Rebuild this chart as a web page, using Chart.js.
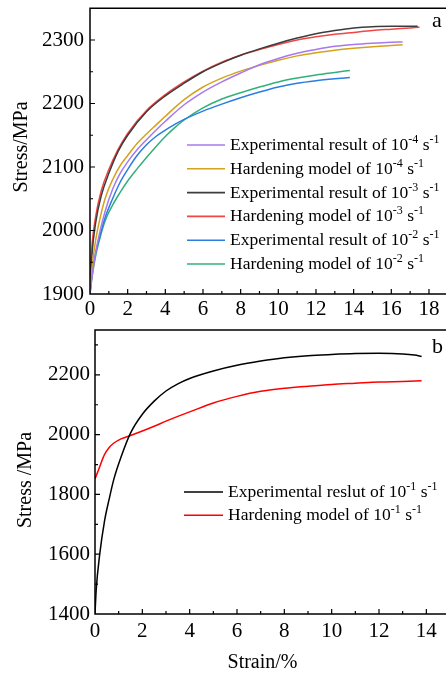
<!DOCTYPE html>
<html><head><meta charset="utf-8">
<script src="https://cdn.jsdelivr.net/npm/chart.js@4"></script>
<style>
html,body{margin:0;padding:0;background:#fff;overflow:hidden;width:446px;height:673px;position:relative;}
canvas{position:absolute;left:0;}
#ca{top:0px}
#cb{top:322px}
</style></head><body>
<canvas id="ca" width="460" height="330"></canvas>
<canvas id="cb" width="460" height="351"></canvas>
<script>
const FONT = '"Liberation Serif", "Times New Roman", serif';

// ---------- Panel a data ----------
const xTicksA = [0, 2, 4, 6, 8, 10, 12, 14, 16, 18];
const yTicksA = [1900, 2000, 2100, 2200, 2300];
const labelsA = [
  'Experimental result of 10^-4 s^-1',
  'Hardening model of 10^-4 s^-1',
  'Experimental result of 10^-3 s^-1',
  'Hardening model of 10^-3 s^-1',
  'Experimental result of 10^-2 s^-1',
  'Hardening model of 10^-2 s^-1'
];
const strain4 = [0, 0.1, 0.3, 0.5, 0.8, 1.2, 1.6, 2, 2.5, 3, 3.5, 4, 5, 6, 7, 8, 9, 10, 11, 12, 13, 14, 15, 16, 16.6];
const exp4    = [1900, 1925, 1965, 1995, 2030, 2065, 2090, 2108, 2127, 2143, 2158, 2172, 2198, 2218, 2234, 2248, 2261, 2271, 2279, 2285, 2290, 2293, 2295, 2296.5, 2297];
const hard4   = [1905, 1940, 1985, 2015, 2050, 2080, 2102, 2118, 2137, 2152, 2166, 2180, 2206, 2226, 2240, 2251, 2260, 2268, 2275, 2280, 2284, 2287, 2289.5, 2291.5, 2292.5];
const strainExp3 = [0, 0.1, 0.3, 0.6, 1, 1.5, 2, 3, 4, 5, 6, 7, 8, 9, 10, 11, 12, 13, 14, 15, 16, 17, 17.4];
const exp3       = [1900, 1960, 2012, 2055, 2090, 2125, 2150, 2187, 2212, 2232, 2250, 2264, 2276, 2286, 2295, 2303, 2310, 2315, 2319, 2321, 2321.5, 2321.5, 2321.5];
const strainHard3 = [0, 0.1, 0.3, 0.6, 1, 1.5, 2, 3, 4, 5, 6, 7, 8, 9, 10, 11, 12, 13, 14, 15, 16, 17, 17.5];
const hard3       = [1920, 1975, 2022, 2063, 2096, 2128, 2153, 2189, 2214, 2234, 2251, 2265, 2276, 2285, 2293, 2300, 2305, 2309, 2312, 2315, 2317, 2319, 2320];
const strain2 = [0, 0.1, 0.3, 0.5, 0.8, 1.2, 1.6, 2, 2.5, 3, 3.5, 4, 4.5, 5, 6, 7, 8, 9, 10, 11, 12, 13, 13.8];
const exp2    = [1900, 1930, 1965, 1988, 2020, 2050, 2076, 2096, 2118, 2135, 2148, 2158, 2167, 2175, 2188, 2199, 2209, 2218, 2226, 2232, 2236, 2239, 2241];
const hard2   = [1900, 1925, 1960, 1985, 2015, 2040, 2060, 2078, 2097, 2115, 2132, 2148, 2162, 2174, 2193, 2207, 2217, 2226, 2234, 2240, 2245, 2249, 2252];

// ---------- Panel b data ----------
const xTicksB = [0, 2, 4, 6, 8, 10, 12, 14];
const yTicksB = [1400, 1600, 1800, 2000, 2200];
const labelsB = [
  'Experimental reslut of 10^-1 s^-1',
  'Hardening model of 10^-1 s^-1'
];
const strainExp1 = [0, 0.05, 0.2, 0.4, 0.6, 0.8, 1.1, 1.5, 2, 2.5, 3, 3.5, 4, 5, 6, 7, 8, 9, 10, 11, 12, 13, 13.5, 13.8];
const exp1       = [1400, 1480, 1600, 1710, 1785, 1852, 1925, 2005, 2068, 2112, 2146, 2170, 2188, 2213, 2232, 2246, 2257, 2264, 2268, 2271, 2272, 2270, 2266, 2261];
const strainHard1 = [0, 0.1, 0.2, 0.4, 0.6, 0.8, 1.1, 1.5, 2, 2.5, 3, 3.5, 4, 5, 6, 7, 8, 9, 10, 11, 12, 13, 13.8];
const hard1       = [1852, 1872, 1893, 1933, 1957, 1972, 1986, 1997, 2012, 2028, 2045, 2061, 2076, 2106, 2128, 2145, 2155, 2162, 2168, 2172, 2176, 2178, 2180];

const colorsA = ['#a878ec', '#d4a21c', '#3c3c3c', '#f04646', '#2a7ee2', '#33b07a'];
const colorsB = ['#000000', '#ff0000'];

const pts = (xs, ys) => xs.map((x, i) => ({x: x, y: ys[i]}));
const plain = s => s.replace(/\^/g, '');

function ds(label, data, color) {
  return {label: plain(label), data: data, borderColor: color, backgroundColor: color,
    borderWidth: 1.5, pointRadius: 0, showLine: true, fill: false,
    cubicInterpolationMode: 'monotone'};
}

function drawRich(ctx, text, x, y, size, supSize, rise) {
  const parts = text.split(/(\^\S+)/);
  ctx.textAlign = 'left';
  ctx.textBaseline = 'alphabetic';
  for (const p of parts) {
    if (!p) continue;
    if (p[0] === '^') {
      const t = p.slice(1);
      ctx.font = supSize + 'px ' + FONT;
      ctx.fillText(t, x, y - rise);
      x += ctx.measureText(t).width;
    } else {
      ctx.font = size + 'px ' + FONT;
      ctx.fillText(p, x, y);
      x += ctx.measureText(p).width;
    }
  }
}

// frame + inward tick marks, drawn from the library scales
const frameTicks = {
  id: 'frameTicks',
  afterDatasetsDraw(chart) {
    const {ctx, chartArea: ca} = chart;
    const xs = chart.scales.x, ys = chart.scales.y;
    ctx.save();
    ctx.strokeStyle = '#000';
    ctx.lineWidth = 1.2;
    ctx.beginPath();
    const mark = (scale, vals, len, horiz) => {
      vals.forEach(v => {
        if (v <= scale.min || v >= scale.max) return;
        const p = scale.getPixelForValue(v);
        if (horiz) { ctx.moveTo(p, ca.bottom); ctx.lineTo(p, ca.bottom - len); }
        else { ctx.moveTo(ca.left, p); ctx.lineTo(ca.left + len, p); }
      });
    };
    const minors = vals => {
      const out = [];
      for (let i = 0; i < vals.length; i++) {
        const step = i < vals.length - 1 ? vals[i + 1] - vals[i] : vals[i] - vals[i - 1];
        out.push(vals[i] + step / 2);
      }
      return out;
    };
    const xv = xs.ticks.map(t => t.value), yv = ys.ticks.map(t => t.value);
    mark(xs, xv, 5, true); mark(xs, minors(xv), 3, true);
    mark(ys, yv, 5, false); mark(ys, minors(yv), 3, false);
    ctx.stroke();
    ctx.lineWidth = 1.5;
    ctx.strokeRect(ca.left, ca.top, ca.right - ca.left, ca.bottom - ca.top);
    ctx.restore();
  }
};

// text annotations and legend
const annot = {
  id: 'annot',
  afterDraw(chart, args, o) {
    const ctx = chart.ctx;
    ctx.save();
    ctx.fillStyle = '#000';
    (o.texts || []).forEach(t => {
      ctx.save();
      ctx.font = t.size + 'px ' + FONT;
      ctx.textAlign = 'center';
      ctx.textBaseline = t.baseline || 'alphabetic';
      ctx.translate(t.x, t.y);
      if (t.rot) ctx.rotate(t.rot);
      ctx.fillText(t.text, 0, 0);
      ctx.restore();
    });
    const L = o.legend;
    if (L) {
      chart.data.datasets.forEach((d, i) => {
        const y = L.y0 + i * L.dy;
        ctx.strokeStyle = d.borderColor;
        ctx.lineWidth = 1.6;
        ctx.beginPath();
        ctx.moveTo(L.x0, y); ctx.lineTo(L.x1, y);
        ctx.stroke();
        ctx.fillStyle = '#000';
        drawRich(ctx, L.labels[i], L.tx, y + L.base, L.size, L.sup, L.rise);
      });
    }
    ctx.restore();
  }
};

function makeChart(id, cfg) {
  return new Chart(document.getElementById(id), {
    type: 'scatter',
    data: {datasets: cfg.datasets},
    plugins: [frameTicks, annot],
    options: {
      responsive: false,
      animation: false,
      events: [],
      layout: {padding: cfg.padding},
      plugins: {legend: {display: false}, tooltip: {enabled: false}, annot: cfg.annot},
      scales: {
        x: {
          type: 'linear', min: cfg.xmin, max: cfg.xmax,
          grid: {display: false, drawTicks: false}, border: {display: false},
          afterBuildTicks: s => { s.ticks = cfg.xTicks.map(v => ({value: v})); },
          afterFit: s => { s.height = cfg.xh; s.paddingLeft = 0; s.paddingRight = 0; },
          ticks: {autoSkip: false, maxRotation: 0, padding: cfg.xpad, color: '#000',
                  font: {family: FONT, size: 21}, callback: v => String(v)}
        },
        y: {
          type: 'linear', min: cfg.ymin, max: cfg.ymax,
          grid: {display: false, drawTicks: false}, border: {display: false},
          afterBuildTicks: s => { s.ticks = cfg.yTicks.map(v => ({value: v})); },
          afterFit: s => { s.width = cfg.yw; s.paddingTop = 0; s.paddingBottom = 0; },
          ticks: {padding: cfg.ypad, color: '#000', font: {family: FONT, size: 21},
                  callback: v => String(v)}
        }
      }
    }
  });
}

makeChart('ca', {
  datasets: [
    ds(labelsA[0], pts(strain4, exp4), colorsA[0]),
    ds(labelsA[1], pts(strain4, hard4), colorsA[1]),
    ds(labelsA[2], pts(strainExp3, exp3), colorsA[2]),
    ds(labelsA[3], pts(strainHard3, hard3), colorsA[3]),
    ds(labelsA[4], pts(strain2, exp2), colorsA[4]),
    ds(labelsA[5], pts(strain2, hard2), colorsA[5])
  ],
  padding: {top: 8.25, left: 0, right: 12.2, bottom: 0},
  xmin: 0, xmax: 19, ymin: 1900, ymax: 2350,
  xTicks: xTicksA, yTicks: yTicksA, xh: 36, yw: 90, xpad: 3, ypad: 6,
  annot: {
    texts: [
      {text: 'Stress/MPa', x: 22, y: 147, size: 20, rot: -Math.PI / 2, baseline: 'middle'},
      {text: 'a', x: 437, y: 27, size: 22}
    ],
    legend: {labels: labelsA, x0: 187, x1: 225, tx: 230, y0: 145, dy: 23.8, base: 5,
             size: 17.5, sup: 12, rise: 7}
  }
});

makeChart('cb', {
  datasets: [
    ds(labelsB[0], pts(strainExp1, exp1), colorsB[0]),
    ds(labelsB[1], pts(strainHard1, hard1), colorsB[1])
  ],
  padding: {top: 8, left: 0, right: 10, bottom: 0},
  xmin: 0, xmax: 15, ymin: 1400, ymax: 2350,
  xTicks: xTicksB, yTicks: yTicksB, xh: 59, yw: 95, xpad: 5, ypad: 5,
  annot: {
    texts: [
      {text: 'Stress /MPa', x: 26, y: 158, size: 20, rot: -Math.PI / 2, baseline: 'middle'},
      {text: 'b', x: 437.5, y: 31, size: 22},
      {text: 'Strain/%', x: 262.5, y: 345.5, size: 20}
    ],
    legend: {labels: labelsB, x0: 184, x1: 223, tx: 228, y0: 170, dy: 23.3, base: 5,
             size: 17.5, sup: 12, rise: 7}
  }
});
</script>
</body></html>
